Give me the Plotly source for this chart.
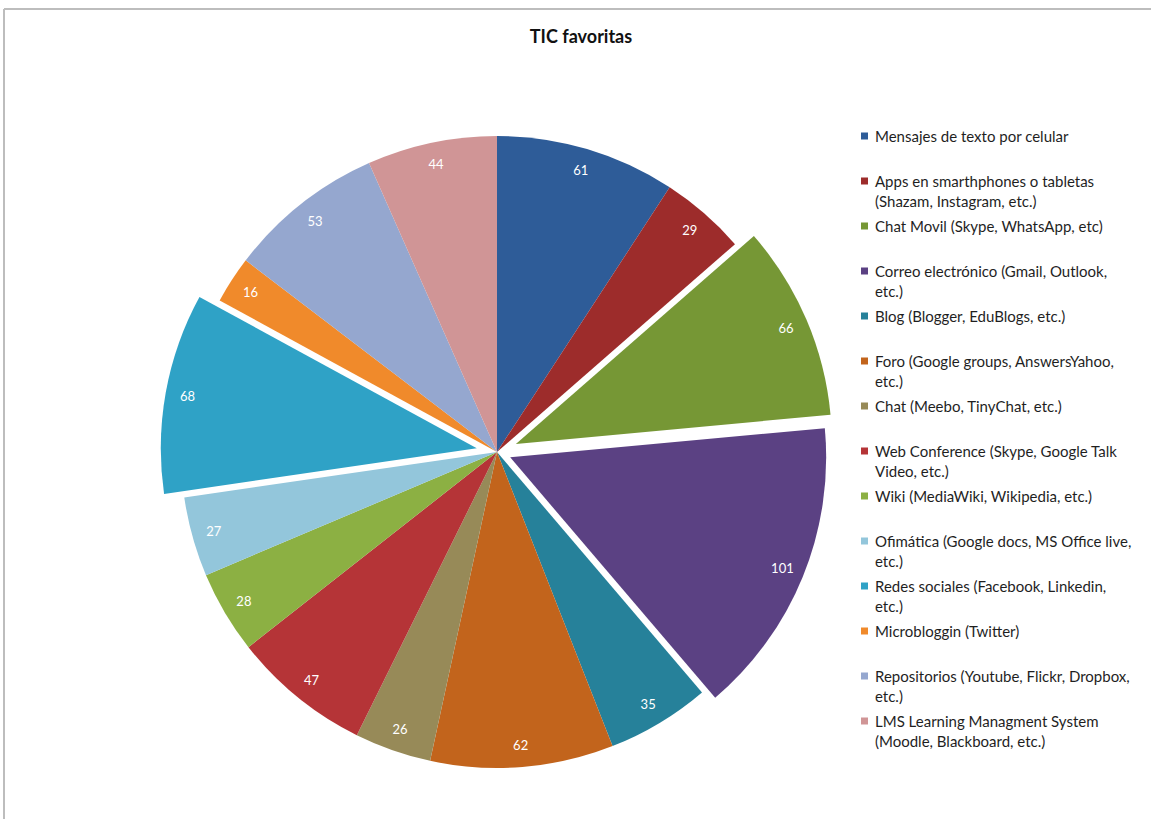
import plotly.graph_objects as go

# ---- data ----
categories = [
    "Mensajes de texto por celular",
    "Apps en smarthphones o tabletas<br>(Shazam, Instagram, etc.)",
    "Chat Movil (Skype, WhatsApp, etc)",
    "Correo electrónico (Gmail, Outlook,<br>etc.)",
    "Blog (Blogger, EduBlogs, etc.)",
    "Foro (Google groups, AnswersYahoo,<br>etc.)",
    "Chat (Meebo, TinyChat, etc.)",
    "Web Conference (Skype, Google Talk<br>Video, etc.)",
    "Wiki (MediaWiki, Wikipedia, etc.)",
    "Ofimática (Google docs, MS Office live,<br>etc.)",
    "Redes sociales (Facebook, Linkedin,<br>etc.)",
    "Microbloggin (Twitter)",
    "Repositorios (Youtube, Flickr, Dropbox,<br>etc.)",
    "LMS Learning Managment System<br>(Moodle, Blackboard, etc.)",
]
values = [61, 29, 66, 101, 35, 62, 26, 47, 28, 27, 68, 16, 53, 44]
pulls = [0, 0, 0.065, 0.045, 0, 0, 0, 0, 0, 0, 0.065, 0, 0, 0]
colors = [
    "#2E5C98", "#9D2C2B", "#769735", "#5B4183", "#26819A", "#C2641C", "#978A58",
    "#B53437", "#8CB043", "#93C6DB", "#2FA2C6", "#F08A2B", "#95A7CF", "#D09596",
]
title_text = "TIC favoritas"

# ---- page geometry (pixels) ----
W, H = 1151, 819
FONT = "Lato, 'Open Sans', sans-serif"
cx, cy, radius = 497, 452, 316
half_box = radius * (1 + max(pulls))


def px_x(x):
    return x / W


def px_y(y):
    return 1 - y / H


domain = dict(
    x=[px_x(cx - half_box), px_x(cx + half_box)],
    y=[px_y(cy + half_box), px_y(cy - half_box)],
)

fig = go.Figure()

# coloured slices
fig.add_trace(go.Pie(
    labels=categories,
    values=values,
    pull=pulls,
    sort=False,
    direction="clockwise",
    rotation=0,
    marker=dict(colors=colors, line=dict(width=0)),
    textinfo="none",
    domain=domain,
    showlegend=False,
    hoverinfo="label+value",
))

# value labels placed in a thin outer ring of the same pie
fig.add_trace(go.Pie(
    labels=categories,
    values=values,
    pull=pulls,
    sort=False,
    direction="clockwise",
    rotation=0,
    hole=0.86,
    marker=dict(colors=["rgba(0,0,0,0)"] * len(values), line=dict(width=0)),
    textinfo="value",
    textposition="inside",
    insidetextorientation="horizontal",
    textfont=dict(family=FONT, size=13, color="white"),
    domain=domain,
    showlegend=False,
    hoverinfo="skip",
))

# legend: small swatch + wrapped text, fixed row pitch
shapes = []
annotations = []
leg_x, leg_y0, leg_step, sw = 861, 136, 45, 7
for i, (name, col) in enumerate(zip(categories, colors)):
    yc = leg_y0 + i * leg_step
    shapes.append(dict(
        type="rect", xref="paper", yref="paper",
        x0=px_x(leg_x), x1=px_x(leg_x + sw),
        y0=px_y(yc + sw / 2), y1=px_y(yc - sw / 2),
        fillcolor=col, line=dict(width=0),
    ))
    annotations.append(dict(
        xref="paper", yref="paper",
        x=px_x(leg_x + 12), y=px_y(yc - 11),
        xanchor="left", yanchor="top", align="left",
        text=name, showarrow=False,
        font=dict(family=FONT, size=15, color="#1F1F1F"),
    ))

# chart frame (top and left edges)
frame = dict(color="#BDBDBD", width=2)
shapes.append(dict(type="line", xref="paper", yref="paper",
                   x0=px_x(4), x1=1, y0=px_y(9), y1=px_y(9), line=frame))
shapes.append(dict(type="line", xref="paper", yref="paper",
                   x0=px_x(4), x1=px_x(4), y0=px_y(9), y1=0, line=frame))

fig.update_layout(
    width=W, height=H,
    margin=dict(l=0, r=0, t=0, b=0),
    paper_bgcolor="white",
    plot_bgcolor="white",
    title=dict(
        text=f"<b>{title_text}</b>",
        x=px_x(581), xanchor="center",
        y=px_y(37), yanchor="middle",
        font=dict(family=FONT, size=18, color="#111111"),
    ),
    uniformtext=dict(minsize=13, mode="show"),
    shapes=shapes,
    annotations=annotations,
    showlegend=False,
)

fig.write_html("out.html")
